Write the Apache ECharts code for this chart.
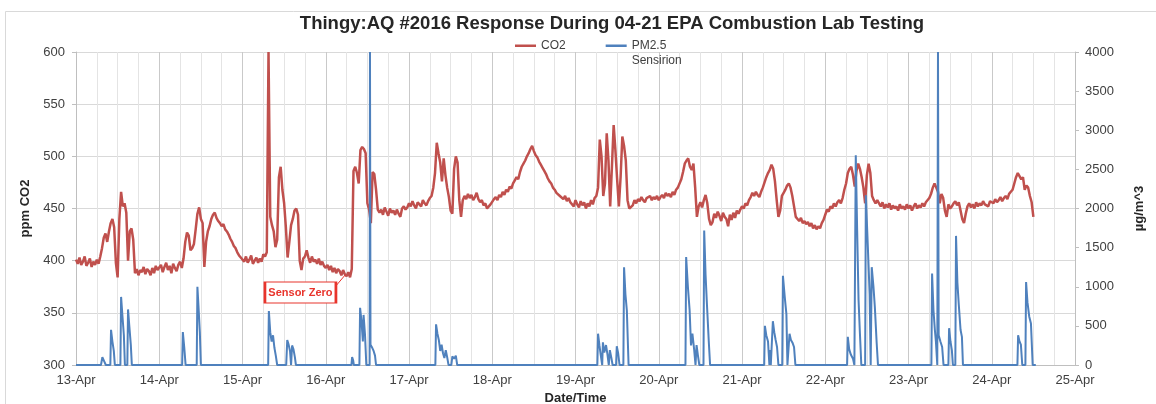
<!DOCTYPE html>
<html>
<head>
<meta charset="utf-8">
<title>Thingy:AQ #2016 Response During 04-21 EPA Combustion Lab Testing</title>
<script src="https://cdn.jsdelivr.net/npm/echarts@6/dist/echarts.min.js"></script>
<style>
  html, body { margin: 0; padding: 0; background: #ffffff; }
  #chart { width: 1156px; height: 404px; }
</style>
</head>
<body>
<div id="chart"></div>
<script>
// X axis runs in hours from 13-Apr 00:00; one tick label per day.
const dayLabels = ['13-Apr', '14-Apr', '15-Apr', '16-Apr', '17-Apr', '18-Apr', '19-Apr',
                   '20-Apr', '21-Apr', '22-Apr', '23-Apr', '24-Apr', '25-Apr'];
const co2Ticks = [300, 350, 400, 450, 500, 550, 600];
const pmTicks = [0, 500, 1000, 1500, 2000, 2500, 3000, 3500, 4000];

// CO2 (ppm), one reading every 30 minutes, starting at 00:00 of each day.
const co2Apr13 = [401,397,403,396,399,404,395,398,402,394,399,396,401,397,404,412,422,426,418,428,436,440,432,398,
                  384,440,466,452,455,446,400,428,431,420,388,392,386,391,389,394,387,392,390,386,393,388,395,391];
const co2Apr14 = [392,396,389,394,398,391,395,388,397,393,390,396,399,393,402,418,427,424,410,412,416,430,445,451,
                  440,436,394,418,428,433,440,444,446,441,438,436,433,435,430,428,425,421,418,414,412,408,405,403];
const co2Apr15 = [402,399,404,398,401,405,397,400,403,398,402,399,406,404,408,600,442,434,428,413,420,480,490,468,
                  455,432,403,418,434,440,448,450,444,400,391,402,404,410,403,398,404,399,401,397,402,396,399,395];
const co2Apr16 = [393,396,391,395,389,393,388,392,390,386,391,387,385,389,384,392,486,490,484,474,506,509,507,503,
                  455,449,436,485,483,468,449,446,449,444,451,447,443,450,446,448,444,449,445,442,450,452,449,451];
const co2Apr17 = [455,452,457,453,450,456,454,452,458,455,453,457,460,462,470,484,513,503,494,476,498,482,470,461,
                  448,445,488,500,494,458,442,458,462,459,464,460,463,458,461,465,459,456,458,453,455,450,452,454];
const co2Apr18 = [455,459,461,458,463,461,466,463,468,466,471,469,474,477,480,478,485,490,493,496,500,503,507,510,
                  505,501,499,495,492,489,486,483,479,476,474,470,468,465,466,462,461,459,462,457,460,456,455,452];
const co2Apr19 = [458,454,451,457,453,456,450,455,452,458,454,460,462,470,516,500,462,474,522,496,452,490,530,506,
                  478,452,480,519,510,496,458,450,449,453,458,455,459,457,461,458,456,460,459,462,458,461,459,462];
const co2Apr20 = [458,461,463,460,465,462,464,461,466,463,468,470,471,478,485,493,496,498,490,487,493,470,442,452,
                  456,451,458,463,455,440,434,437,445,441,447,443,438,446,442,440,433,444,439,446,441,448,445,449];
const co2Apr21 = [452,450,455,453,458,461,465,462,466,463,461,466,470,475,480,484,487,492,488,476,458,442,448,462,
                  465,468,472,474,470,462,452,442,440,438,441,436,438,435,437,433,436,431,434,430,433,431,436,439];
const co2Apr22 = [444,449,447,452,450,455,452,456,458,455,460,468,474,484,488,490,482,471,486,493,488,480,470,455,
                  482,493,484,462,458,455,458,455,452,456,450,454,451,455,449,453,450,452,448,454,450,452,449,454];
const co2Apr23 = [450,453,448,452,455,450,453,451,455,452,456,455,460,464,470,474,470,466,455,464,460,448,442,454,
                  450,452,455,457,453,456,448,440,436,445,452,455,451,454,450,456,452,455,453,457,454,455,452,457];
const co2Apr24 = [458,455,459,456,458,461,457,460,462,459,464,466,468,474,480,484,481,478,480,468,472,470,462,456,442];

// PM2.5 Sensirion (µg/m^3): [hour of day, value] for each burn event; zero elsewhere.
const pmApr13 = [[7.2,0],[7.6,100],[8.2,40],[8.6,0],[9.9,0],[10.1,450],[10.5,300],[10.9,180],[11.2,0],
                 [12.8,0],[13.0,870],[13.4,620],[13.8,380],[14.1,0],[14.8,0],[15.0,710],[15.4,480],[15.8,260],[16.1,0]];
const pmApr14 = [[6.6,0],[6.8,420],[7.2,230],[7.6,0],[10.8,0],[11.0,1000],[11.3,760],[11.7,420],[12.0,0]];
const pmApr15 = [[7.4,0],[7.6,690],[8.0,420],[8.4,300],[8.8,380],[9.2,220],[9.6,120],[10.0,0],
                 [12.6,0],[12.9,320],[13.3,260],[13.7,180],[14.0,0],[14.3,250],[14.7,200],[15.1,100],[15.4,0]];
const pmApr16 = [[7.4,0],[7.6,100],[7.9,60],[8.1,0],[9.7,0],[9.9,730],[10.3,560],[10.7,300],[10.9,640],[11.3,400],[11.7,0],
                 [12.65,0],[12.75,4000],[12.9,260],[13.4,220],[13.8,180],[14.2,120],[14.5,0]];
const pmApr17 = [[7.6,0],[7.8,520],[8.2,400],[8.6,320],[9.0,180],[9.4,260],[9.8,150],[10.2,90],[10.6,190],[11.0,100],[11.4,0],
                 [12.2,0],[12.5,110],[13.0,80],[13.5,120],[13.9,0]];
const pmApr19 = [[6.3,0],[6.5,400],[6.9,250],[7.3,120],[7.7,0],[7.9,290],[8.3,160],[8.8,255],[9.2,140],[9.6,0],
                 [9.9,190],[10.3,100],[10.7,0],[11.7,0],[11.9,240],[12.3,150],[12.7,0],
                 [13.8,0],[14.0,1250],[14.4,900],[14.8,700],[15.3,0]];
const pmApr20 = [[7.7,0],[7.9,1380],[8.4,1000],[8.9,700],[9.3,250],[9.7,400],[10.2,200],[10.6,0],[10.9,255],[11.3,120],[11.7,0],
                 [12.9,0],[13.1,1720],[13.5,1150],[13.9,770],[14.4,320],[14.8,0]];
const pmApr21 = [[6.4,0],[6.6,500],[7.0,380],[7.5,300],[7.9,0],[8.0,190],[8.3,0],[8.6,0],[8.9,560],[9.3,420],[9.7,320],[10.1,230],[10.5,0],
                 [11.6,0],[11.8,1140],[12.3,880],[12.8,650],[13.1,0],[13.4,0],[13.7,400],[14.1,320],[14.6,280],[15.0,230],[15.4,0]];
const pmApr22 = [[6.3,0],[6.5,360],[6.9,200],[7.4,130],[8.0,80],[8.4,0],[8.6,0],[8.8,2680],[9.2,1720],[9.6,830],[10.0,400],[10.4,0],
                 [11.5,0],[11.7,2170],[12.2,1600],[12.8,900],[13.1,0],[13.2,0],[13.4,1250],[13.9,1000],[14.3,740],[14.8,300],[15.2,0]];
const pmApr23 = [[6.6,0],[6.8,1170],[7.2,700],[7.6,450],[7.9,300],[8.3,0],[8.5,4000],[8.7,380],[9.2,300],[9.7,230],[10.1,0],
                 [11.5,0],[11.7,470],[12.1,300],[12.5,190],[12.8,0],[13.5,0],[13.7,1650],[14.1,1050],[14.5,770],[15.0,450],[15.4,360],[15.7,0]];
const pmApr24 = [[7.4,0],[7.6,380],[8.0,300],[8.4,260],[8.8,0],[9.7,0],[9.9,1060],[10.3,800],[10.8,620],[11.3,530],[11.8,0],[12.7,0]];

// "Sensor Zero" callout, in axis units (hours, ppm).
const sensorZeroBox = [64.7, 369.5];
const sensorZeroLeader = [[74.9, 375.7], [77.6, 386.3]];

const co2Days = [co2Apr13, co2Apr14, co2Apr15, co2Apr16, co2Apr17, co2Apr18,
                 co2Apr19, co2Apr20, co2Apr21, co2Apr22, co2Apr23, co2Apr24];
const co2Data = [];
co2Days.forEach(function (day, d) {
  day.forEach(function (v, i) { co2Data.push([d * 24 + i * 0.5, v]); });
});

const pmDays = [[0, pmApr13], [1, pmApr14], [2, pmApr15], [3, pmApr16], [4, pmApr17],
                [6, pmApr19], [7, pmApr20], [8, pmApr21], [9, pmApr22], [10, pmApr23], [11, pmApr24]];
const pmData = [[0, 0]];
pmDays.forEach(function (entry) {
  entry[1].forEach(function (p) { pmData.push([entry[0] * 24 + p[0], p[1]]); });
});

const FONT = '"Liberation Sans", Arial, Helvetica, sans-serif';
const TEXT = '#404040';
const RED = '#c0504d';
const BLUE = '#4f81bd';
const CALLOUT = '#e8342c';
const PM_NAME = 'PM2.5\nSensirion';
// Legend swatch: a short bar at the top of a 21x17 box, so it lines up with the first text line.
const LEGEND_ICON = 'path://M0,0L21,0L21,2.5L0,2.5Z M0,17L0,17';

const chart = echarts.init(document.getElementById('chart'), null, { renderer: 'canvas' });
chart.setOption({
  animation: false,
  backgroundColor: '#ffffff',
  textStyle: { fontFamily: FONT },
  title: {
    text: 'Thingy:AQ #2016 Response During 04-21 EPA Combustion Lab Testing',
    left: 607,
    top: 9,
    textAlign: 'center',
    textStyle: { fontFamily: FONT, fontSize: 18.5, fontWeight: 'bold', color: '#262626' }
  },
  legend: {
    left: 510,
    top: 33,
    icon: LEGEND_ICON,
    itemWidth: 21,
    itemHeight: 17,
    itemGap: 40,
    symbolKeepAspect: false,
    textStyle: { fontFamily: FONT, fontSize: 12, color: TEXT, lineHeight: 15 },
    formatter: function (name) { return name === 'CO2' ? 'CO2\n\u00a0' : name; },
    data: ['CO2', PM_NAME]
  },
  graphic: [{
    type: 'rect',
    silent: true,
    z: -10,
    shape: { x: 5.5, y: 11.5, width: 1200, height: 500 },
    style: { fill: 'none', stroke: '#d9d9d9', lineWidth: 1 }
  }],
  grid: { left: 76, right: 81, top: 52, bottom: 39, containLabel: false, outerBoundsMode: 'none' },
  xAxis: {
    type: 'value',
    min: 0,
    max: (dayLabels.length - 1) * 24,
    interval: 24,
    name: 'Date/Time',
    nameLocation: 'middle',
    nameGap: 27,
    nameTextStyle: { fontFamily: FONT, fontSize: 13, fontWeight: 'bold', color: '#262626' },
    axisLine: { show: true, lineStyle: { color: '#bfbfbf', width: 1 } },
    axisTick: { show: false },
    axisLabel: {
      color: TEXT, fontSize: 13, margin: 9, fontFamily: FONT,
      formatter: function (v) { return dayLabels[Math.round(v / 24)]; }
    },
    splitLine: { show: true, lineStyle: { color: '#c9c9c9', width: 1 } },
    minorTick: { show: false, splitNumber: 4 },
    minorSplitLine: { show: true, lineStyle: { color: '#e4e4e4', width: 1 } }
  },
  yAxis: [{
    type: 'value',
    position: 'left',
    min: co2Ticks[0],
    max: co2Ticks[co2Ticks.length - 1],
    interval: 50,
    name: 'ppm CO2',
    nameLocation: 'middle',
    nameRotate: 90,
    nameGap: 34,
    nameTextStyle: { fontFamily: FONT, fontSize: 13, fontWeight: 'bold', color: '#262626' },
    axisLine: { show: true, lineStyle: { color: '#bfbfbf', width: 1 } },
    axisTick: { show: true, length: 4, lineStyle: { color: '#bfbfbf' } },
    axisLabel: { color: TEXT, fontSize: 13, margin: 11, fontFamily: FONT,
                 formatter: function (v) { return String(v); } },
    splitLine: { show: true, lineStyle: { color: '#d9d9d9', width: 1 } }
  }, {
    type: 'value',
    position: 'right',
    min: pmTicks[0],
    max: pmTicks[pmTicks.length - 1],
    interval: 500,
    name: 'µg/m^3',
    nameLocation: 'middle',
    nameRotate: 90,
    nameGap: 58,
    nameTextStyle: { fontFamily: FONT, fontSize: 13, fontWeight: 'bold', color: '#262626' },
    axisLine: { show: true, lineStyle: { color: '#bfbfbf', width: 1 } },
    axisTick: { show: true, length: 4, lineStyle: { color: '#bfbfbf' } },
    axisLabel: { color: TEXT, fontSize: 13, margin: 10, fontFamily: FONT,
                 formatter: function (v) { return String(v); } },
    splitLine: { show: false }
  }],
  series: [{
    name: 'CO2',
    type: 'line',
    yAxisIndex: 0,
    data: co2Data,
    showSymbol: false,
    symbol: 'none',
    color: RED,
    lineStyle: { color: RED, width: 2.5 },
    markPoint: {
      silent: true,
      symbol: 'rect',
      symbolSize: [71, 21],
      itemStyle: { color: '#ffffff', borderColor: CALLOUT, borderWidth: 1.5 },
      label: {
        show: true, position: 'inside', formatter: 'Sensor Zero',
        color: CALLOUT, fontSize: 11, fontWeight: 'bold', fontFamily: FONT
      },
      data: [{ coord: sensorZeroBox }]
    },
    markLine: {
      silent: true,
      symbol: ['none', 'none'],
      lineStyle: { color: CALLOUT, width: 1, type: 'solid' },
      label: { show: false },
      data: [[{ coord: sensorZeroLeader[0] }, { coord: sensorZeroLeader[1] }]]
    }
  }, {
    name: PM_NAME,
    type: 'line',
    yAxisIndex: 1,
    data: pmData,
    showSymbol: false,
    symbol: 'none',
    color: BLUE,
    lineStyle: { color: BLUE, width: 2 }
  }]
});
</script>
</body>
</html>
